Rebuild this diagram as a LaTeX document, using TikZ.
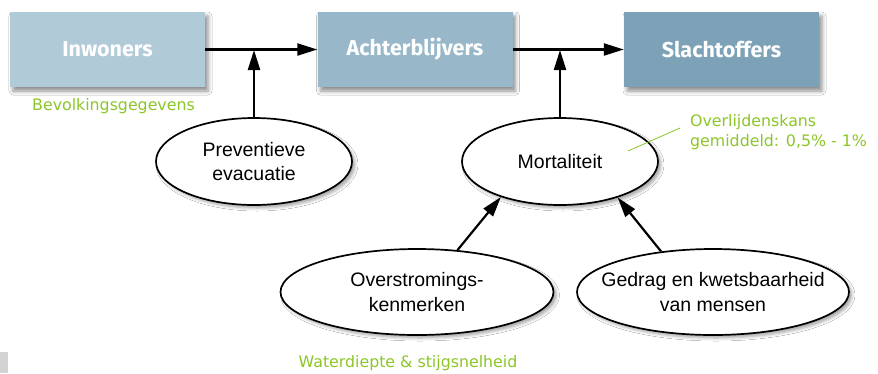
\documentclass[tikz,border=0pt]{standalone}
\usepackage{fontspec}
\setmainfont{Liberation Sans}
\newfontfamily\boxfont{Fira Sans}
\newfontfamily\greenfont{DejaVu Sans}
\usetikzlibrary{arrows.meta,shapes.geometric,shadows.blur}
\definecolor{cinw}{RGB}{176,202,216}
\definecolor{cach}{RGB}{152,184,202}
\definecolor{csla}{RGB}{125,162,183}
\definecolor{cgreen}{RGB}{140,198,40}
\begin{document}
\begin{tikzpicture}[x=1pt,y=-1pt,
  boxnode/.style={rectangle, minimum width=195pt, minimum height=75pt, inner sep=0pt,
    text=white, font=\boxfont\bfseries\fontsize{21.5}{24}\selectfont,
    blur shadow={shadow xshift=3pt, shadow yshift=-4pt, shadow blur radius=4pt, shadow opacity=45}},
  ell/.style={ellipse, draw=black, line width=1.7pt, fill=white, inner sep=0pt,
    blur shadow={shadow xshift=3pt, shadow yshift=-3pt, shadow blur radius=3pt, shadow opacity=35}},
  elltext/.style={align=center, font=\fontsize{19.5}{24.5}\selectfont, inner sep=0pt},
  arr/.style={line width=2.2pt, -{Triangle[length=20pt,width=12pt]}},
  greentxt/.style={text=cgreen, font=\greenfont\fontsize{15.8}{20}\selectfont, inner sep=0pt}
]
\useasboundingbox (0,0) rectangle (878,373);
\fill[white] (0,0) rectangle (878,373);
\fill[gray!35] (0,352) rectangle (8,373);

\node[boxnode, fill=cinw] (inw) at (107.5,49.5) {Inwoners};
\node[boxnode, fill=cach] (ach) at (415,49.5) {Achterblijvers};
\node[boxnode, fill=csla] (sla) at (721.5,49.5) {Slachtoffers};

\node[ell, minimum width=196pt, minimum height=87pt,
  label={[elltext]center:Preventieve\\evacuatie}] (prev) at (254,161.5) {};
\node[ell, minimum width=196pt, minimum height=87pt,
  label={[elltext]center:Mortaliteit}] (mort) at (560,161.5) {};
\node[ell, minimum width=273pt, minimum height=86pt,
  label={[elltext]center:Overstromings-\\kenmerken}] (ovs) at (417,292) {};
\node[ell, minimum width=272pt, minimum height=86pt,
  label={[elltext]center:Gedrag en kwetsbaarheid\\van mensen}] (ged) at (713,292) {};

\coordinate (j1) at (254,50);
\coordinate (j2) at (560,50);

\draw[arr] (inw.east) -- (ach.west);
\draw[arr] (ach.east) -- (sla.west);
\draw[arr] (prev.north) -- (j1);
\draw[arr] (mort.north) -- (j2);
\draw[arr] (ovs.46) -- (mort.211);
\draw[arr] (ged.142) -- (mort.-32);

\node[greentxt, anchor=west] (bev) at (32,106) {Bevolkingsgegevens};
\node[greentxt, anchor=west, align=left] (ovl) at (690,132) {Overlijdenskans\\gemiddeld: 0,5\% - 1\%};
\coordinate (lnend) at (628,151);
\draw[cgreen, line width=0.8pt] (lnend) -- (680,128);
\node[greentxt] (wat) at (408,363) {Waterdiepte \& stijgsnelheid};
\end{tikzpicture}
\end{document}
